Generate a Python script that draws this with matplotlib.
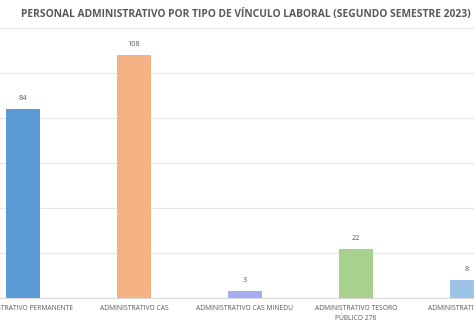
import matplotlib
matplotlib.use('Agg')
import matplotlib.pyplot as plt
import numpy as np

categorias = ['ADMINISTRATIVO PERMANENTE', 'ADMINISTRATIVO CAS', 'ADMINISTRATIVO CAS MINEDU',
              'ADMINISTRATIVO TESORO\nPÚBLICO 276', 'ADMINISTRATIVO OTROS']
valores = [84, 108, 3, 22, 8]
colores = ['#5B9BD5', '#F4B183', '#A4ABF3', '#A9D18E', '#9DC3E6']
titulo = 'PERSONAL ADMINISTRATIVO POR TIPO DE VÍNCULO LABORAL (SEGUNDO SEMESTRE 2023)'

plt.rcParams['font.family'] = ['Open Sans', 'DejaVu Sans']

fig = plt.figure(figsize=(4.74, 3.24), dpi=100)
ax = fig.add_axes([0, 26/324, 1, 270/324])

x = np.arange(len(valores))
ax.bar(x, valores, width=0.31, color=colores, zorder=2)
for xi, v in zip(x, valores):
    ax.text(xi, v + 3, str(v), ha='center', va='bottom', fontsize=5.3, color='#595959')

ax.set_xlim(-0.207, 4.063)
ax.set_ylim(0, 120)
ax.set_yticks(range(0, 121, 20))
ax.yaxis.grid(True, color='#E6E6E6', linewidth=0.8, zorder=0)
ax.tick_params(axis='y', left=False, labelleft=False)
ax.tick_params(axis='x', length=0, pad=5, labelsize=4.9, labelcolor='#595959')
ax.set_xticks(x)
ax.set_xticklabels(categorias, linespacing=1.6)
for s in ['top', 'right', 'left']:
    ax.spines[s].set_visible(False)
ax.spines['bottom'].set_color('#D9D9D9')

fig.text(246/474, 1 - 14/324, titulo, ha='center', va='center', fontsize=7.4,
         fontweight='bold', color='#595959')

fig.savefig('out.png', dpi=100)
